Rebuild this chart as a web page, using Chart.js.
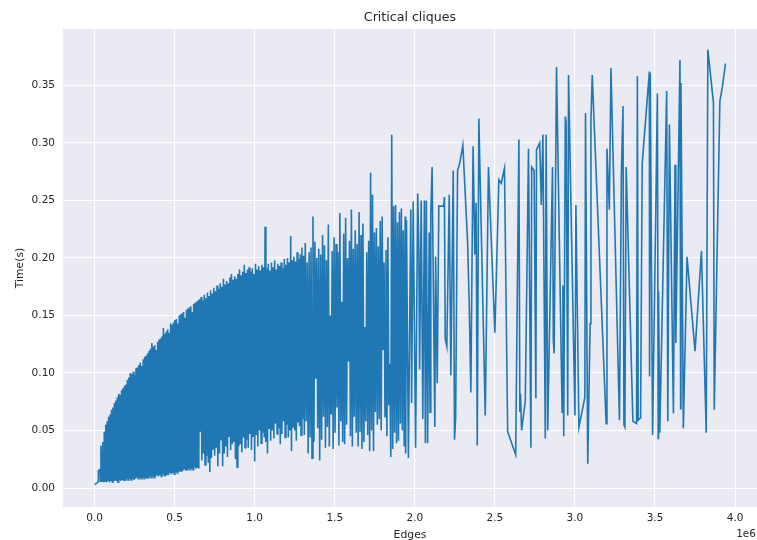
<!DOCTYPE html>
<html>
<head>
<meta charset="utf-8">
<script src="https://cdn.jsdelivr.net/npm/chart.js@4/dist/chart.umd.min.js"></script>
<style>
  html, body { margin: 0; padding: 0; background: #ffffff; }
  canvas { display: block; }
</style>
</head>
<body>
<canvas id="cliqueChart" width="757" height="540"></canvas>
<script>
// edges are kept in millions, the axis shows the "1e6" offset like the original
const edgesM = [
  // start
  0.000, 0.015, 0.022, 0.024, 0.034, 0.036, 0.040,
  // dense part up to ~0.65e6
  0.048, 0.052, 0.057, 0.061, 0.066, 0.070, 0.075, 0.079, 0.084, 0.088,
  0.093, 0.097, 0.102, 0.106, 0.111, 0.115, 0.120, 0.124, 0.129, 0.133,
  0.138, 0.142, 0.147, 0.151, 0.156, 0.160, 0.165, 0.169, 0.174, 0.178,
  0.183, 0.187, 0.192, 0.196, 0.201, 0.205, 0.210, 0.214, 0.219, 0.223,
  0.228, 0.232, 0.237, 0.241, 0.246, 0.250, 0.255, 0.259, 0.264, 0.268,
  0.273, 0.277, 0.282, 0.286, 0.291, 0.295, 0.300, 0.304, 0.309, 0.313,
  0.318, 0.322, 0.327, 0.331, 0.336, 0.340, 0.345, 0.349, 0.354, 0.358,
  0.363, 0.367, 0.372, 0.376, 0.381, 0.385, 0.390, 0.394, 0.399, 0.403,
  0.408, 0.412, 0.417, 0.421, 0.426, 0.430, 0.435, 0.439, 0.444, 0.448,
  0.453, 0.457, 0.462, 0.466, 0.471, 0.475, 0.480, 0.484, 0.489, 0.493,
  0.498, 0.502, 0.507, 0.511, 0.516, 0.520, 0.525, 0.529, 0.534, 0.538,
  0.543, 0.547, 0.552, 0.556, 0.561, 0.565, 0.570, 0.574, 0.579, 0.583,
  0.588, 0.592, 0.597, 0.601, 0.606, 0.610, 0.615, 0.619, 0.624, 0.628,
  0.633, 0.637, 0.642, 0.646, 0.651, 0.655,
  // 0.66e6 - 1.3e6
  0.660, 0.665, 0.670, 0.675, 0.680, 0.685, 0.690, 0.695, 0.700, 0.705,
  0.710, 0.715, 0.720, 0.725, 0.730, 0.735, 0.740, 0.745, 0.750, 0.755,
  0.760, 0.765, 0.770, 0.775, 0.780, 0.785, 0.790, 0.795, 0.800, 0.805,
  0.810, 0.815, 0.820, 0.825, 0.830, 0.835, 0.840, 0.845, 0.850, 0.855,
  0.860, 0.865, 0.870, 0.875, 0.880, 0.885, 0.890, 0.895, 0.900, 0.905,
  0.910, 0.915, 0.920, 0.925, 0.930, 0.935, 0.940, 0.945, 0.950, 0.955,
  0.960, 0.965, 0.970, 0.975, 0.980, 0.985, 0.990, 0.995, 1.000, 1.005,
  1.010, 1.015, 1.020, 1.025, 1.030, 1.035, 1.040, 1.045, 1.050, 1.055,
  1.060, 1.065, 1.070, 1.075, 1.080, 1.085, 1.090, 1.095, 1.100, 1.105,
  1.110, 1.115, 1.120, 1.125, 1.130, 1.135, 1.140, 1.145, 1.150, 1.155,
  1.160, 1.165, 1.170, 1.175, 1.180, 1.185, 1.190, 1.195, 1.200, 1.205,
  1.210, 1.215, 1.220, 1.225, 1.230, 1.235, 1.240, 1.245, 1.250, 1.255,
  1.260, 1.265, 1.270, 1.275, 1.280, 1.285, 1.290, 1.295, 1.300, 1.305,
  // 1.3e6 - 1.94e6
  1.310, 1.316, 1.322, 1.328, 1.334, 1.340, 1.346, 1.352, 1.358, 1.364,
  1.370, 1.376, 1.382, 1.388, 1.394, 1.400, 1.406, 1.412, 1.418, 1.424,
  1.430, 1.436, 1.442, 1.448, 1.454, 1.460, 1.466, 1.472, 1.478, 1.484,
  1.490, 1.496, 1.502, 1.508, 1.514, 1.520, 1.526, 1.532, 1.538, 1.544,
  1.550, 1.556, 1.562, 1.568, 1.574, 1.580, 1.586, 1.592, 1.598, 1.604,
  1.610, 1.616, 1.622, 1.628, 1.634, 1.640, 1.646, 1.652, 1.658, 1.664,
  1.670, 1.676, 1.682, 1.688, 1.694, 1.700, 1.706, 1.712, 1.718, 1.724,
  1.730, 1.736, 1.742, 1.748, 1.754, 1.760, 1.766, 1.772, 1.778, 1.784,
  1.790, 1.796, 1.802, 1.808, 1.814, 1.820, 1.826, 1.832, 1.838, 1.844,
  1.850, 1.856, 1.862, 1.868, 1.874, 1.880, 1.886, 1.892, 1.898, 1.904,
  1.910, 1.916, 1.922, 1.928, 1.934, 1.940, 1.943,
  // sparse tail
  1.948, 1.960, 1.975, 1.980, 1.990, 2.005, 2.018, 2.025, 2.030, 2.040,
  2.050, 2.060, 2.066, 2.072, 2.080, 2.090, 2.095, 2.100, 2.108, 2.125,
  2.130, 2.140, 2.150, 2.180, 2.185, 2.190, 2.200, 2.215, 2.225, 2.240,
  2.248, 2.255, 2.267, 2.280, 2.300, 2.330, 2.340, 2.350, 2.364, 2.375,
  2.383, 2.390, 2.400, 2.440, 2.460, 2.500, 2.525, 2.540, 2.560, 2.580,
  2.630, 2.650, 2.656, 2.660, 2.667, 2.690, 2.710, 2.725, 2.730, 2.745,
  2.756, 2.760, 2.780, 2.790, 2.800, 2.815, 2.820, 2.830, 2.860, 2.865,
  2.870, 2.885, 2.920, 2.925, 2.930, 2.940, 2.945, 2.955, 2.960, 3.000,
  3.006, 3.025, 3.062, 3.066, 3.080, 3.095, 3.100, 3.108, 3.195, 3.200,
  3.215, 3.225, 3.278, 3.290, 3.300, 3.306, 3.312, 3.320, 3.362, 3.385,
  3.390, 3.395, 3.410, 3.420, 3.465, 3.466, 3.470, 3.485, 3.515, 3.520,
  3.522, 3.530, 3.573, 3.580, 3.590, 3.615, 3.625, 3.630, 3.656, 3.660,
  3.662, 3.677, 3.700, 3.750, 3.790, 3.820, 3.830, 3.865, 3.870, 3.905,
  3.920, 3.940
];

// time in seconds, one value per entry of edgesM
const timeS = [
  // start
  0.003, 0.0045, 0.0055, 0.015, 0.016, 0.006, 0.037,
  // dense part up to ~0.65e6
  0.006, 0.040, 0.005, 0.049, 0.006, 0.055, 0.005, 0.058, 0.006, 0.062,
  0.005, 0.064, 0.006, 0.068, 0.005, 0.070, 0.006, 0.074, 0.007, 0.076,
  0.006, 0.079, 0.005, 0.082, 0.007, 0.081, 0.006, 0.085, 0.007, 0.087,
  0.006, 0.089, 0.007, 0.090, 0.008, 0.094, 0.007, 0.096, 0.008, 0.100,
  0.007, 0.099, 0.008, 0.101, 0.007, 0.098, 0.008, 0.104, 0.009, 0.105,
  0.008, 0.107, 0.009, 0.109, 0.008, 0.106, 0.009, 0.112, 0.008, 0.114,
  0.009, 0.115, 0.008, 0.117, 0.009, 0.119, 0.010, 0.121, 0.009, 0.126,
  0.010, 0.123, 0.009, 0.124, 0.010, 0.120, 0.011, 0.127, 0.010, 0.129,
  0.011, 0.130, 0.010, 0.132, 0.012, 0.139, 0.011, 0.134, 0.010, 0.136,
  0.012, 0.138, 0.011, 0.135, 0.013, 0.143, 0.012, 0.142, 0.013, 0.144,
  0.012, 0.146, 0.014, 0.147, 0.013, 0.143, 0.014, 0.150, 0.015, 0.151,
  0.014, 0.152, 0.015, 0.153, 0.016, 0.148, 0.015, 0.155, 0.016, 0.156,
  0.017, 0.157, 0.016, 0.158, 0.017, 0.153, 0.016, 0.160, 0.018, 0.161,
  0.017, 0.162, 0.018, 0.163, 0.017, 0.164,
  // 0.66e6 - 1.3e6
  0.049, 0.166, 0.024, 0.163, 0.030, 0.168, 0.020, 0.165, 0.028, 0.170,
  0.022, 0.167, 0.014, 0.172, 0.026, 0.169, 0.034, 0.174, 0.028, 0.171,
  0.035, 0.176, 0.019, 0.173, 0.030, 0.178, 0.042, 0.175, 0.019, 0.182,
  0.030, 0.177, 0.036, 0.180, 0.027, 0.178, 0.045, 0.183, 0.033, 0.186,
  0.038, 0.181, 0.040, 0.184, 0.025, 0.182, 0.018, 0.186, 0.036, 0.190,
  0.038, 0.185, 0.031, 0.188, 0.044, 0.194, 0.035, 0.187, 0.042, 0.190,
  0.035, 0.192, 0.047, 0.188, 0.033, 0.191, 0.045, 0.186, 0.023, 0.195,
  0.046, 0.190, 0.036, 0.193, 0.050, 0.189, 0.039, 0.194, 0.048, 0.192,
  0.044, 0.227, 0.040, 0.191, 0.030, 0.195, 0.052, 0.189, 0.041, 0.196,
  0.050, 0.192, 0.043, 0.198, 0.056, 0.190, 0.047, 0.195, 0.052, 0.193,
  0.038, 0.196, 0.047, 0.191, 0.058, 0.199, 0.044, 0.194, 0.055, 0.200,
  0.044, 0.196, 0.050, 0.219, 0.032, 0.198, 0.053, 0.201, 0.050, 0.197,
  0.041, 0.205, 0.057, 0.199, 0.054, 0.203, 0.046, 0.209, 0.060, 0.202,
  // 1.3e6 - 1.94e6
  0.046, 0.213, 0.058, 0.196, 0.030, 0.205, 0.044, 0.209, 0.026, 0.236,
  0.040, 0.214, 0.095, 0.200, 0.052, 0.208, 0.024, 0.203, 0.042, 0.220,
  0.062, 0.211, 0.035, 0.198, 0.053, 0.229, 0.036, 0.150, 0.064, 0.206,
  0.034, 0.218, 0.048, 0.212, 0.070, 0.205, 0.037, 0.239, 0.058, 0.162,
  0.040, 0.221, 0.038, 0.235, 0.055, 0.200, 0.110, 0.215, 0.045, 0.242,
  0.036, 0.208, 0.062, 0.224, 0.048, 0.212, 0.036, 0.240, 0.049, 0.220,
  0.034, 0.230, 0.040, 0.140, 0.058, 0.205, 0.046, 0.215, 0.032, 0.274,
  0.050, 0.255, 0.032, 0.222, 0.066, 0.226, 0.055, 0.210, 0.060, 0.232,
  0.050, 0.236, 0.120, 0.196, 0.062, 0.207, 0.045, 0.218, 0.072, 0.108,
  0.027, 0.307, 0.034, 0.245, 0.048, 0.246, 0.039, 0.231, 0.041, 0.240,
  0.056, 0.243, 0.050, 0.224, 0.036, 0.236, 0.030,
  // sparse tail
  0.233, 0.026, 0.242, 0.074, 0.249, 0.035, 0.256, 0.210, 0.103, 0.250,
  0.060, 0.250, 0.039, 0.250, 0.039, 0.222, 0.066, 0.239, 0.279, 0.053,
  0.201, 0.091, 0.245, 0.245, 0.253, 0.130, 0.123, 0.255, 0.098, 0.276,
  0.042, 0.061, 0.276, 0.282, 0.298, 0.213, 0.159, 0.083, 0.297, 0.203,
  0.248, 0.037, 0.321, 0.063, 0.279, 0.135, 0.268, 0.265, 0.278, 0.049,
  0.029, 0.303, 0.066, 0.082, 0.050, 0.076, 0.295, 0.035, 0.279, 0.276,
  0.078, 0.294, 0.300, 0.246, 0.307, 0.043, 0.307, 0.050, 0.279, 0.129,
  0.117, 0.366, 0.066, 0.176, 0.045, 0.323, 0.318, 0.063, 0.359, 0.063,
  0.246, 0.053, 0.079, 0.326, 0.021, 0.143, 0.319, 0.359, 0.056, 0.295,
  0.242, 0.365, 0.059, 0.272, 0.332, 0.055, 0.053, 0.279, 0.058, 0.056,
  0.358, 0.059, 0.061, 0.282, 0.362, 0.097, 0.361, 0.046, 0.343, 0.043,
  0.171, 0.048, 0.345, 0.058, 0.316, 0.065, 0.281, 0.126, 0.372, 0.069,
  0.352, 0.052, 0.201, 0.119, 0.206, 0.048, 0.381, 0.335, 0.068, 0.336,
  0.348, 0.369
];

const xTickValues = [0, 0.5, 1, 1.5, 2, 2.5, 3, 3.5, 4];
const yTickValues = [0, 0.05, 0.1, 0.15, 0.2, 0.25, 0.3, 0.35];

const chartTitle = 'Critical cliques';
const xTitle = 'Edges';
const yTitle = 'Time(s)';
const xOffsetText = '1e6';

const textColor = '#262626';
const font = 'DejaVu Sans';

const points = edgesM.map((e, i) => ({ x: e, y: timeS[i] }));

// seaborn-like background plus the titles drawn as text on the canvas
const decorPlugin = {
  id: 'decor',
  beforeDraw(chart) {
    const { ctx, chartArea: a } = chart;
    ctx.save();
    ctx.fillStyle = '#ffffff';
    ctx.fillRect(0, 0, chart.width, chart.height);
    ctx.fillStyle = '#eaeaf2';
    ctx.fillRect(a.left, a.top, a.right - a.left, a.bottom - a.top);
    ctx.restore();
  },
  afterDraw(chart) {
    const { ctx, chartArea: a } = chart;
    const cx = (a.left + a.right) / 2;
    ctx.save();
    ctx.fillStyle = textColor;
    ctx.textBaseline = 'alphabetic';

    ctx.font = '12.6px "' + font + '"';
    ctx.textAlign = 'center';
    ctx.fillText(chartTitle, cx, 21);

    ctx.font = '10.8px "' + font + '"';
    ctx.fillText(xTitle, cx, 538);

    ctx.font = '10.5px "' + font + '"';
    ctx.textAlign = 'right';
    ctx.fillText(xOffsetText, 756, 536.5);

    ctx.font = '10.8px "' + font + '"';
    ctx.textAlign = 'center';
    ctx.translate(23, (a.top + a.bottom) / 2);
    ctx.rotate(-Math.PI / 2);
    ctx.fillText(yTitle, 0, 0);
    ctx.restore();
  }
};

new Chart(document.getElementById('cliqueChart'), {
  type: 'line',
  data: {
    datasets: [{
      label: 'Critical cliques',
      data: points,
      borderColor: '#1f77b4',
      borderWidth: 1.6,
      pointRadius: 0,
      fill: false,
      tension: 0
    }]
  },
  options: {
    responsive: false,
    animation: false,
    devicePixelRatio: 1,
    layout: { padding: { top: 29, right: 0, left: 0, bottom: 0 } },
    plugins: {
      legend: { display: false },
      title: { display: false },
      tooltip: { enabled: false }
    },
    scales: {
      x: {
        type: 'linear',
        min: -0.197,
        max: 4.137,
        afterBuildTicks: axis => { axis.ticks = xTickValues.map(v => ({ value: v })); },
        afterFit: axis => { axis.height = 33; },
        grid: { color: '#ffffff', lineWidth: 1, drawTicks: false },
        border: { display: false },
        ticks: {
          padding: 5,
          color: textColor,
          font: { family: font, size: 10.5 },
          callback: v => v.toFixed(1)
        }
      },
      y: {
        min: -0.0165,
        max: 0.399,
        afterBuildTicks: axis => { axis.ticks = yTickValues.map(v => ({ value: v })); },
        afterFit: axis => { axis.width = 63; },
        grid: { color: '#ffffff', lineWidth: 1, drawTicks: false },
        border: { display: false },
        ticks: {
          padding: 8,
          color: textColor,
          font: { family: font, size: 10.5 },
          callback: v => v.toFixed(2)
        }
      }
    }
  },
  plugins: [decorPlugin]
});
</script>
</body>
</html>
